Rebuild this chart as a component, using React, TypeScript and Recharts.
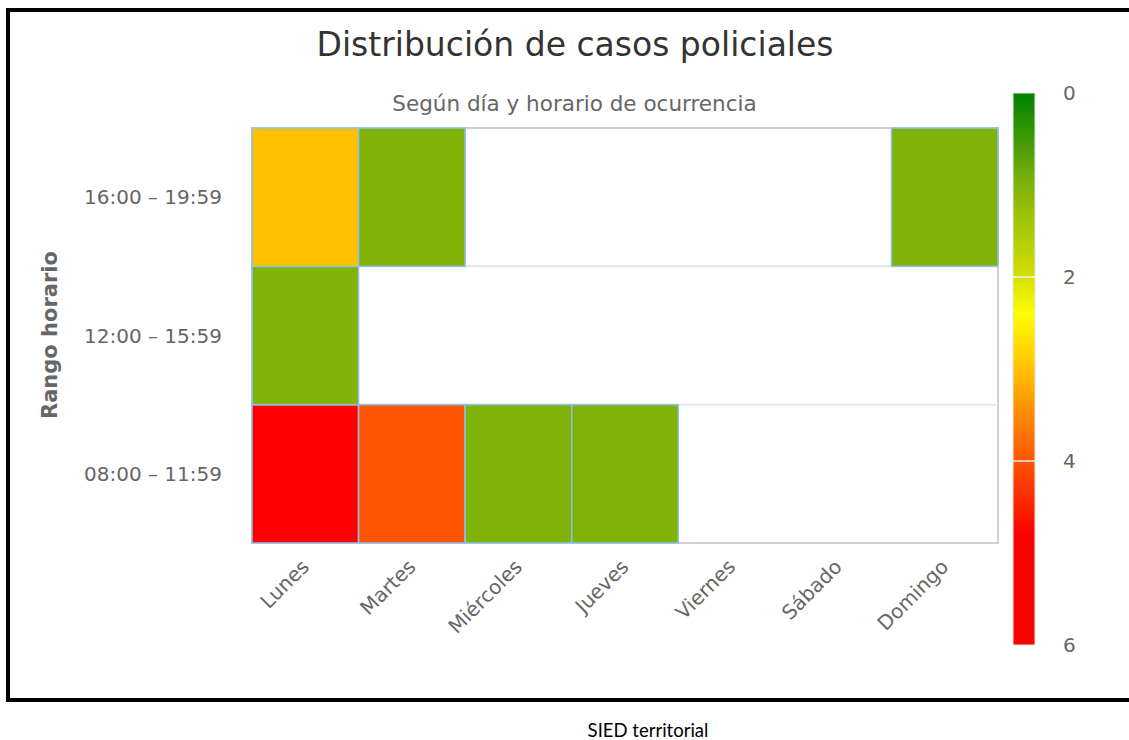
import { ScatterChart, Scatter, XAxis, YAxis, ReferenceArea, ReferenceLine } from 'recharts';

const days = ['Lunes', 'Martes', 'Miércoles', 'Jueves', 'Viernes', 'Sábado', 'Domingo'];
const hours = ['08:00 – 11:59', '12:00 – 15:59', '16:00 – 19:59'];

// cases per day, one array per time slot (null = no cases)
const morning = [6, 4, 1, 1, null, null, null];
const midday = [1, null, null, null, null, null, null];
const evening = [3, 1, null, null, null, null, 1];

const legendTicks = [0, 2, 4, 6];
const colorStops: [number, string][] = [
  [0, '#008000'],
  [1, '#80b30a'],
  [2, '#d4e000'],
  [2.4, '#ffff00'],
  [3, '#ffc000'],
  [4, '#ff5500'],
  [4.8, '#ff0000'],
  [6, '#ff0000'],
];

const W = 1129;
const H = 740;
const PLOT = { left: 252, top: 128, right: 998, bottom: 543 };
const CELL_W = (PLOT.right - PLOT.left) / days.length;
const CELL_H = (PLOT.bottom - PLOT.top) / hours.length;
const FONT = '"DejaVu Sans", sans-serif';

function hexToRgb(h: string) {
  const n = parseInt(h.slice(1), 16);
  return [(n >> 16) & 255, (n >> 8) & 255, n & 255];
}

function colorFor(v: number) {
  for (let i = 0; i < colorStops.length - 1; i++) {
    const [a, ca] = colorStops[i];
    const [b, cb] = colorStops[i + 1];
    if (v >= a && v <= b) {
      const t = b === a ? 0 : (v - a) / (b - a);
      const x = hexToRgb(ca);
      const y = hexToRgb(cb);
      const c = x.map((k, j) => Math.round(k + (y[j] - k) * t));
      return `rgb(${c[0]},${c[1]},${c[2]})`;
    }
  }
  return colorStops[colorStops.length - 1][1];
}

const cells = [morning, midday, evening].flatMap((row, yi) =>
  row
    .map((v, xi) => ({ x: xi, y: yi, value: v }))
    .filter((d) => d.value !== null)
);

const CellShape = (props: any) => {
  const { cx, cy, payload } = props;
  return (
    <rect
      x={cx - CELL_W / 2}
      y={cy - CELL_H / 2}
      width={CELL_W}
      height={CELL_H}
      fill={colorFor(payload.value)}
      stroke="#90c0ee"
      strokeWidth={1.5}
    />
  );
};

const DayTick = (props: any) => {
  const { x, y, payload } = props;
  const ax = x + 5;
  const ay = y + 17;
  return (
    <text
      x={ax}
      y={ay}
      textAnchor="end"
      transform={`rotate(-45, ${ax}, ${ay})`}
      fill="#666666"
      fontSize={20}
      fontFamily={FONT}
    >
      {days[payload.value]}
    </text>
  );
};

const HourTick = (props: any) => {
  const { y, payload } = props;
  return (
    <text
      x={PLOT.left - 30}
      y={y}
      dy={7}
      textAnchor="end"
      fill="#666666"
      fontSize={20}
      fontFamily={FONT}
    >
      {hours[payload.value]}
    </text>
  );
};

const BAR = { x: 1013, top: 93, w: 22, h: 552 };

function ColorBar() {
  const max = legendTicks[legendTicks.length - 1];
  return (
    <svg width={W} height={H} style={{ position: 'absolute', left: 0, top: 0, pointerEvents: 'none' }}>
      <defs>
        <linearGradient id="heat" x1="0" y1="0" x2="0" y2="1">
          {colorStops.map(([v, c]) => (
            <stop key={v} offset={`${(v / max) * 100}%`} stopColor={c} />
          ))}
        </linearGradient>
      </defs>
      <rect x={BAR.x} y={BAR.top} width={BAR.w} height={BAR.h} fill="url(#heat)" stroke="#e6e6e6" strokeWidth={1} />
      {legendTicks.map((t) => {
        const ty = BAR.top + (t / max) * BAR.h;
        return (
          <g key={t}>
            {t > 0 && t < max && (
              <line x1={BAR.x} x2={BAR.x + BAR.w} y1={ty} y2={ty} stroke="#f0f0f0" strokeWidth={1.5} />
            )}
            <text x={BAR.x + 50} y={ty} dy={7} textAnchor="start" fill="#666666" fontSize={20} fontFamily={FONT}>
              {t}
            </text>
          </g>
        );
      })}
    </svg>
  );
}

export default function App() {
  return (
    <div style={{ position: 'absolute', left: 0, top: 0, width: W, height: H, background: '#fff', overflow: 'hidden', fontFamily: FONT }}>
      <div
        style={{
          position: 'absolute',
          left: 6,
          top: 8,
          width: 1160,
          height: 694,
          border: '4px solid #000',
          boxSizing: 'border-box',
        }}
      />
      <div style={{ position: 'absolute', left: 0, width: 1150, top: 25, textAlign: 'center', fontSize: 33, color: '#333333' }}>
        Distribución de casos policiales
      </div>
      <div style={{ position: 'absolute', left: 0, width: 1149, top: 91, textAlign: 'center', fontSize: 21.5, color: '#666666' }}>
        Según día y horario de ocurrencia
      </div>
      <div
        style={{
          position: 'absolute',
          left: 50,
          top: 335,
          transform: 'translate(-50%, -50%) rotate(-90deg)',
          fontSize: 21,
          fontWeight: 'bold',
          color: '#666666',
          whiteSpace: 'nowrap',
        }}
      >
        Rango horario
      </div>
      <div
        style={{
          position: 'absolute',
          left: 0,
          top: 721,
          width: 1296,
          height: 19,
          lineHeight: '19px',
          textAlign: 'center',
          fontSize: 18.5,
          color: '#000',
          fontFamily: 'Lato, sans-serif',
        }}
      >
        SIED territorial
      </div>
      <div style={{ position: 'absolute', left: 0, top: 0 }}>
        <ScatterChart
          width={W}
          height={H}
          margin={{ top: PLOT.top, right: W - PLOT.right, bottom: H - PLOT.bottom - 60, left: PLOT.left - 200 }}
        >
          <XAxis
            type="number"
            dataKey="x"
            domain={[-0.5, days.length - 0.5]}
            ticks={days.map((_, i) => i)}
            interval={0}
            height={60}
            axisLine={false}
            tickLine={false}
            tick={<DayTick />}
          />
          <YAxis
            type="number"
            dataKey="y"
            domain={[-0.5, hours.length - 0.5]}
            ticks={hours.map((_, i) => i)}
            interval={0}
            width={200}
            axisLine={false}
            tickLine={false}
            tick={<HourTick />}
          />
          <ReferenceArea
            x1={-0.5}
            x2={days.length - 0.5}
            y1={-0.5}
            y2={hours.length - 0.5}
            fill="none"
            stroke="#d0d0d0"
            strokeWidth={2}
            fillOpacity={0}
          />
          <ReferenceLine y={0.5} stroke="#e6e6e6" strokeWidth={2} />
          <ReferenceLine y={1.5} stroke="#e6e6e6" strokeWidth={2} />
          <Scatter data={cells} shape={<CellShape />} isAnimationActive={false} />
        </ScatterChart>
      </div>
      <ColorBar />
    </div>
  );
}
